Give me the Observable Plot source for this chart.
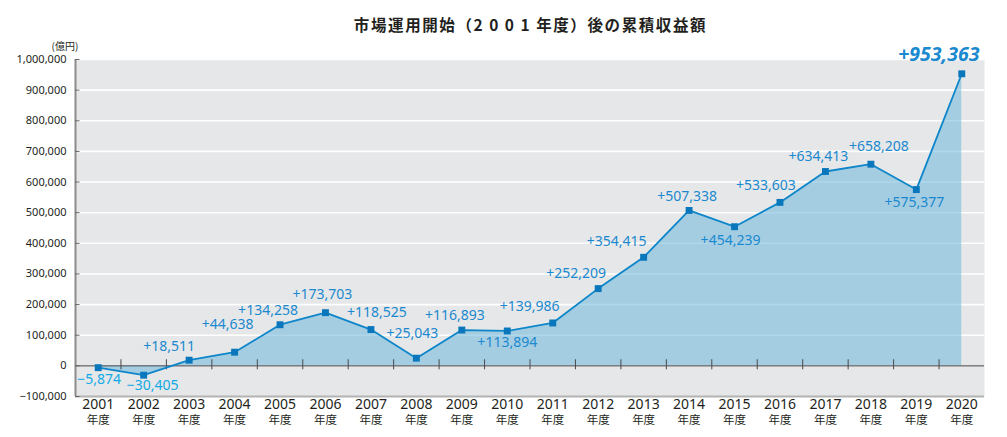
<!DOCTYPE html>
<html><head><meta charset="utf-8">
<script src="https://cdn.jsdelivr.net/npm/d3@7"></script>
<script src="https://cdn.jsdelivr.net/npm/@observablehq/plot@0.6"></script>
<style>
body{margin:0;background:#fff;}
#title{height:40px;box-sizing:border-box;padding-top:14px;padding-left:54px;text-align:center;font-family:"Noto Sans CJK JP";font-weight:bold;font-size:15.5px;letter-spacing:1.6px;color:#231f20;line-height:20px;white-space:nowrap;}
#title .num{letter-spacing:0.42em;}
</style></head><body>
<div id="title">市場運用開始（<span class="num">2001</span>年度）後の累積収益額</div>
<div id="chart"></div>
<script>
const years = [2001,2002,2003,2004,2005,2006,2007,2008,2009,2010,2011,2012,2013,2014,2015,2016,2017,2018,2019,2020];
const values = [-5874,-30405,18511,44638,134258,173703,118525,25043,116893,113894,139986,252209,354415,507338,454239,533603,634413,658208,575377,953363];
const yTicks = [-100000,0,100000,200000,300000,400000,500000,600000,700000,800000,900000,1000000];
const gridTicks = [100000,200000,300000,400000,500000,600000,700000,800000,900000,1000000];
const yearSuffix = "年度";
const unitLabel = "(億円)";

// label placement (pixel offsets relative to each point)
const labelOffsets = [[1,12],[9,10.5],[-20,-14],[-7,-28],[-12,-14],[-3,-18],[6,-17],[-4,-25],[-7,-15],[0,12],[-23,-16],[-22,-15],[-27,-16],[-2,-14],[-4,14],[-14,-17],[-7,-15],[8,-18],[-2,13],[-23,-19]];

const data = years.map((year, i) => ({year, value: values[i]}));
const boundaries = years.slice(0, -1).map(y => y + 0.5);
const fmt = d3.format(",");
const labelText = v => (v < 0 ? "\u2212" : "+") + fmt(Math.abs(v));

const labelMarks = data.map((d, i) => {
  const last = i === data.length - 1;
  return Plot.text([d], {
    x: "year", y: "value", text: d => labelText(d.value),
    dx: labelOffsets[i][0], dy: labelOffsets[i][1],
    fill: d.value < 0 ? "#12aae6" : "#1a89cf",
    fontSize: last ? 19.5 : 14,
    fontWeight: last ? "bold" : "normal",
    fontStyle: last ? "italic" : "normal",
    fontFamily: "Noto Sans"
  });
});

const chart = Plot.plot({
  width: 1007, height: 397,
  marginLeft: 75, marginRight: 23, marginTop: 19, marginBottom: 41,
  x: {domain: [2000.5, 2020.5], axis: null},
  y: {domain: [-100000, 1000000], axis: null},
  style: {fontFamily: "Noto Sans", background: "white", overflow: "visible"},
  marks: [
    Plot.frame({fill: "#e6e7e8", stroke: null}),
    Plot.ruleY(gridTicks, {y: d => d, stroke: "white", strokeWidth: 1.6}),
    Plot.areaY(data, {x: "year", y: "value", fill: "#78bddd", fillOpacity: 0.6}),
    Plot.ruleY([0], {y: d => d, stroke: "#4a4a4a", strokeWidth: 1}),
    Plot.ruleX(boundaries, {x: d => d, y1: -13000, y2: 20000, stroke: "#4a4a4a", strokeWidth: 1}),
    Plot.ruleY([-100000], {y: d => d, stroke: "#b3b3b3", strokeWidth: 2}),
    Plot.ruleX([2000.5], {x: d => d, stroke: "#8c8c8c", strokeWidth: 2}),
    Plot.ruleY(yTicks, {y: d => d, x1: 2000.5, x2: 2000.6, stroke: "#666", strokeWidth: 1}),
    Plot.lineY(data, {x: "year", y: "value", stroke: "#0e86c9", strokeWidth: 1.8}),
    Plot.dot(data, {x: "year", y: "value", symbol: "square", r: 3.9, fill: "#0a77bd", stroke: null}),
    ...labelMarks,
    Plot.text(yTicks, {y: d => d, frameAnchor: "left", dx: -9, textAnchor: "end", text: d => fmt(d), fontSize: 11, fill: "#231f20"}),
    Plot.text(years, {x: d => d, frameAnchor: "bottom", dy: 12.5, text: d => String(d), fontSize: 14, fontFamily: "'Liberation Sans Narrow', 'Noto Sans'", fill: "#231f20"}),
    Plot.text(years, {x: d => d, frameAnchor: "bottom", dy: 27.5, text: () => yearSuffix, fontSize: 11.5, fontFamily: "Noto Sans CJK JP", fill: "#231f20"}),
    Plot.text([unitLabel], {frameAnchor: "top-left", dx: -24, dy: -17, text: d => d, fontSize: 10, fontFamily: "Noto Sans CJK JP", fill: "#231f20"})
  ]
});
document.getElementById("chart").appendChild(chart);
</script></body></html>
